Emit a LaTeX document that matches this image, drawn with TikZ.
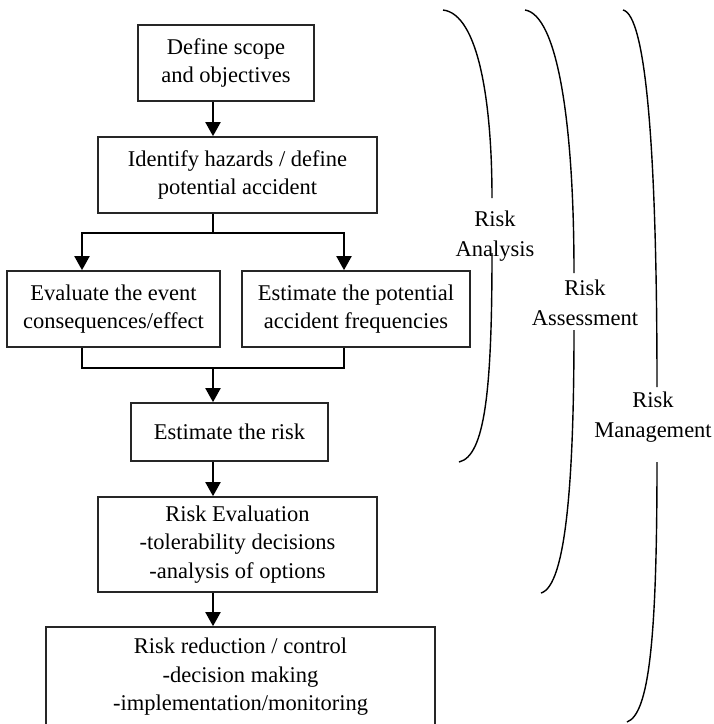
\documentclass[tikz,border=0pt]{standalone}
\usepackage{fontspec}
\setmainfont{Liberation Serif}
\usetikzlibrary{arrows.meta}
\begin{document}
\begin{tikzpicture}[x=1pt,y=-1pt,
  box/.style={draw=black!85, line width=1.7pt, align=center, inner sep=0pt,
    font=\fontsize{22.5}{28.5}\selectfont},
  arr/.style={line width=2pt, -{Triangle[length=14pt,width=15pt]}},
  ln/.style={line width=1.7pt},
  brk/.style={line width=1.4pt},
  lbl/.style={align=center, inner sep=0pt, font=\fontsize{22.5}{30}\selectfont}]
\useasboundingbox (0,0) rectangle (714,724);
\clip (0,0) rectangle (714,724);
\node[box, minimum width=176pt, minimum height=76pt] (b1) at (226,63) {Define scope\\and objectives};
\node[box, minimum width=279pt, minimum height=76pt] (b2) at (237.5,175) {Identify hazards / define\\potential accident};
\node[box, minimum width=213pt, minimum height=76pt] (b3) at (113.5,309) {Evaluate the event\\consequences/effect};
\node[box, minimum width=228pt, minimum height=76pt] (b4) at (356,309) {Estimate the potential\\accident frequencies};
\node[box, minimum width=197pt, minimum height=58pt] (b5) at (229.5,432) {Estimate the risk};
\node[box, minimum width=279pt, minimum height=95pt] (b6) at (237.5,544.5) {Risk Evaluation\\-tolerability decisions\\-analysis of options};
\node[box, minimum width=389pt, minimum height=100pt] (b7) at (240.5,677) {Risk reduction / control\\-decision making\\-implementation/monitoring};
\coordinate (ax) at (213,0);
\coordinate (lx) at (82,0);
\coordinate (rx) at (344,0);
\coordinate (s1) at (213,233);
\coordinate (m1) at (213,368);
\draw[arr] (b1.south -| ax) -- (b2.north -| ax);
\draw[ln] (b2.south -| ax) -- (s1);
\draw[arr] (s1) -| (b3.north -| lx);
\draw[arr] (s1) -| (b4.north -| rx);
\draw[ln] (b3.south -| lx) |- (m1);
\draw[ln] (b4.south -| rx) |- (m1);
\draw[arr] (m1) -- (b5.north -| ax);
\draw[arr] (b5.south -| ax) -- (b6.north -| ax);
\draw[arr] (b6.south -| ax) -- (b7.north -| ax);
% brackets
\coordinate (p1t) at (443,10);
\coordinate (p1a) at (492,198);
\coordinate (p1b) at (492,253);
\coordinate (p1e) at (459,462);
\draw[brk] (p1t) .. controls (478,14) and (492,100) .. (p1a);
\draw[brk] (p1b) .. controls (492,390) and (485,456) .. (p1e);
\node[lbl] (la) at (495,236) {Risk\\Analysis};
\coordinate (p2t) at (525,10);
\coordinate (p2a) at (574,273);
\coordinate (p2b) at (574,330);
\coordinate (p2e) at (541,593);
\draw[brk] (p2t) .. controls (557,15) and (574,120) .. (p2a);
\draw[brk] (p2b) .. controls (574,480) and (566,586) .. (p2e);
\node[lbl] (lb) at (585,303) {Risk\\Assessment};
\coordinate (p3t) at (623,10);
\coordinate (p3a) at (657,387);
\coordinate (p3b) at (657,462);
\coordinate (p3e) at (627,722);
\draw[brk] (p3t) .. controls (646,15) and (657,150) .. (p3a);
\draw[brk] (p3b) .. controls (657,640) and (649,714) .. (p3e);
\node[lbl] (lc) at (653,417) {Risk\\Management};
\end{tikzpicture}
\end{document}
